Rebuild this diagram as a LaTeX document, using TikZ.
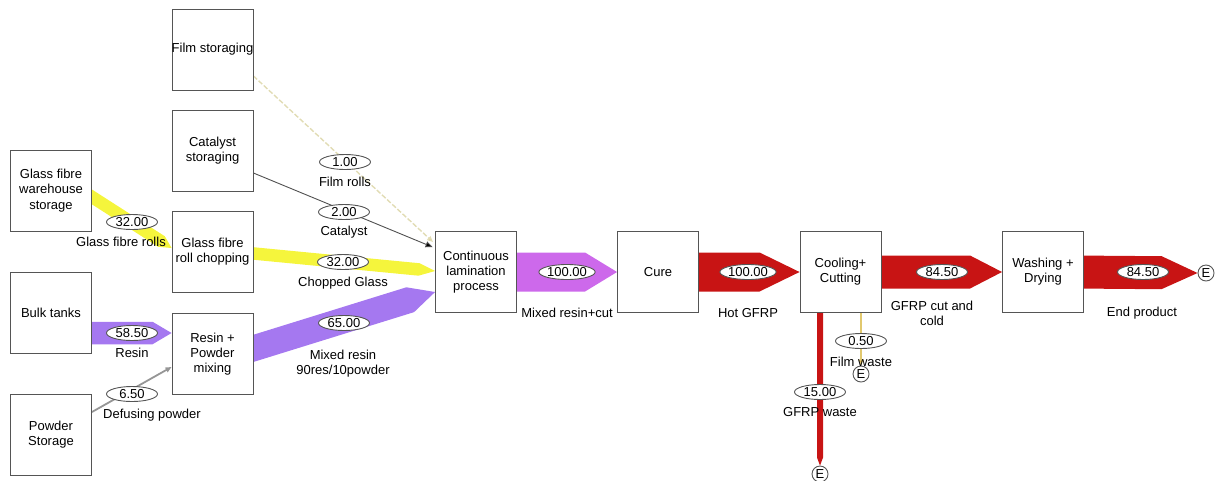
\documentclass[tikz,border=0pt]{standalone}
\usepackage{fontspec}
\setmainfont{Liberation Sans}
\usetikzlibrary{calc,shapes.geometric,arrows.meta}
\pgfdeclarelayer{flows}
\pgfsetlayers{flows,main}

\definecolor{glassyellow}{RGB}{245,245,60}
\definecolor{resinpurple}{RGB}{165,120,240}
\definecolor{curemix}{RGB}{205,105,235}
\definecolor{gfrpred}{RGB}{200,20,20}
\definecolor{framegray}{RGB}{85,85,85}
\definecolor{filmline}{RGB}{225,220,180}
\definecolor{filmtip}{RGB}{225,150,40}
\definecolor{wasteline}{RGB}{225,200,110}
\definecolor{powdergray}{RGB}{150,150,150}
\definecolor{catgray}{RGB}{80,80,80}

\newcommand{\diagfont}{\fontsize{13}{15.2}\selectfont}

% Sankey band: colour, start, tip, half width, head length
\newcommand{\flowband}[5]{%
  \coordinate (fbS) at (#2);
  \coordinate (fbT) at (#3);
  \coordinate (fbH) at ($(fbT)!#5!(fbS)$);
  \fill[#1] ($(fbS)!#4!90:(fbT)$) -- ($(fbH)!#4!90:(fbT)$) -- (fbT)
    -- ($(fbH)!#4!-90:(fbT)$) -- ($(fbS)!#4!-90:(fbT)$) -- cycle;
}

\begin{document}
\begin{tikzpicture}[x=1pt,y=-1pt,
  proc/.style={draw=framegray, line width=0.9pt, fill=white, minimum width=81pt,
    minimum height=81pt, inner sep=0pt, align=center, font=\diagfont},
  val/.style={ellipse, draw=framegray, line width=0.9pt, fill=white, minimum width=51pt,
    minimum height=15pt, inner sep=0pt, font=\diagfont},
  lbl/.style={align=center, inner sep=0pt, font=\diagfont},
  sink/.style={circle, draw=framegray, line width=0.9pt, fill=white, minimum size=16pt,
    inner sep=0pt, font=\diagfont},
  tip/.style={-{Triangle[length=6pt,width=5pt]}}
]
\useasboundingbox (0,0) rectangle (1222,480);

% process boxes
\node[proc] (film)  at (212.5,49.5) {\makebox[79pt]{Film storaging}};
\node[proc] (cat)   at (212.5,150.5) {Catalyst\\storaging};
\node[proc] (ware)  at (51,190.5) {Glass fibre\\warehouse\\storage};
\node[proc] (chop)  at (212.5,251.5) {Glass fibre\\roll chopping};
\node[proc] (bulk)  at (51,312.5) {Bulk tanks};
\node[proc] (mix)   at (212.5,354) {Resin +\\Powder\\mixing};
\node[proc] (powd)  at (51,434.5) {Powder\\Storage};
\node[proc] (lam)   at (476,272) {Continuous\\lamination\\process};
\node[proc] (cure)  at (658,272) {Cure};
\node[proc] (cool)  at (840.5,272) {Cooling+\\Cutting};
\node[proc] (wash)  at (1043,272) {Washing +\\Drying};

% exits
\node[sink] (eend)   at (1206,273) {E};
\node[sink] (efilm)  at (861,374) {E};
\node[sink] (ewaste) at (820,474) {E};

% flows
\begin{pgfonlayer}{flows}
  \flowband{glassyellow}{$(ware.east)+(-10,0)$}{$(chop.west)+(0,-3.5)$}{6.25pt}{12pt}
  \flowband{glassyellow}{$(chop.east)+(-10,1)$}{$(lam.west)+(0,-1)$}{6.25pt}{16pt}
  \flowband{resinpurple}{$(bulk.east)+(-10,20.5)$}{$(mix.west)+(0,-21)$}{11.25pt}{19pt}
  \flowband{resinpurple}{$(mix.east)+(-10.5,-2.4)$}{$(lam.west)+(0,20)$}{13pt}{26pt}
  \flowband{curemix}{$(lam.east)+(-10,0)$}{cure.west}{19.5pt}{32pt}
  \flowband{gfrpred}{$(cure.east)+(-10,0)$}{cool.west}{19.5pt}{40pt}
  \flowband{gfrpred}{$(cool.east)+(-10,0)$}{wash.west}{16.5pt}{32pt}
  \flowband{gfrpred}{$(wash.east)+(-10,0)$}{eend.west}{16.5pt}{36pt}
  \flowband{gfrpred}{$(cool.south)+(-20.5,-10)$}{ewaste.north}{3pt}{8pt}

  \draw[filmline, line width=1.4pt, dash pattern=on 5pt off 2pt,
        -{Triangle[length=6pt,width=5pt,fill=filmtip]}]
    ($(film.east)+(0,26.5)$) -- ($(lam.north west)+(-2,11)$);
  \draw[catgray, line width=0.9pt, -{Triangle[length=7pt,width=6pt,fill=black]}]
    ($(cat.east)+(0,22.5)$) -- ($(lam.north west)+(-2.5,16)$);
  \draw[powdergray, line width=1.8pt, tip]
    ($(powd.east)+(0,-22.5)$) -- ($(mix.west)+(0,13)$);
  \draw[wasteline, line width=1.2pt, -{Triangle[length=6pt,width=5pt,fill=filmtip]}]
    ($(cool.south)+(20.5,0)$) -- (efilm.north);
\end{pgfonlayer}

% flow values
\node[val] (v1)  at (345,162) {1.00};
\node[val] (v2)  at (344,212) {2.00};
\node[val] (v3)  at (343,262) {32.00};
\node[val] (v4)  at (344,323) {65.00};
\node[val] (v5)  at (132,222) {32.00};
\node[val] (v6)  at (132,333) {58.50};
\node[val] (v7)  at (132,394) {6.50};
\node[val] (v8)  at (567,272) {100.00};
\node[val] (v9)  at (748,272) {100.00};
\node[val] (v10) at (942,272) {84.50};
\node[val] (v11) at (1143,272) {84.50};
\node[val] (v12) at (861,341) {0.50};
\node[val] (v13) at (820,392) {15.00};

% flow names
\node[lbl] (l1)  at (345,182) {Film rolls};
\node[lbl] (l2)  at (344,232) {Catalyst};
\node[lbl] (l3)  at (343,283) {Chopped Glass};
\node[lbl] (l4)  at (343,363.5) {Mixed resin\\90res/10powder};
\node[lbl] (l5)  at (121,242) {Glass fibre rolls};
\node[lbl] (l6)  at (132,353) {Resin};
\node[lbl] (l7)  at (152,415) {Defusing powder};
\node[lbl] (l8)  at (567,313) {Mixed resin+cut};
\node[lbl] (l9)  at (748,313) {Hot GFRP};
\node[lbl] (l10) at (932,313) {GFRP cut and\\cold};
\node[lbl] (l11) at (1142,313) {End product};
\node[lbl] (l12) at (861,362) {Film waste};
\node[lbl] (l13) at (820,412) {GFRP waste};
\end{tikzpicture}
\end{document}
